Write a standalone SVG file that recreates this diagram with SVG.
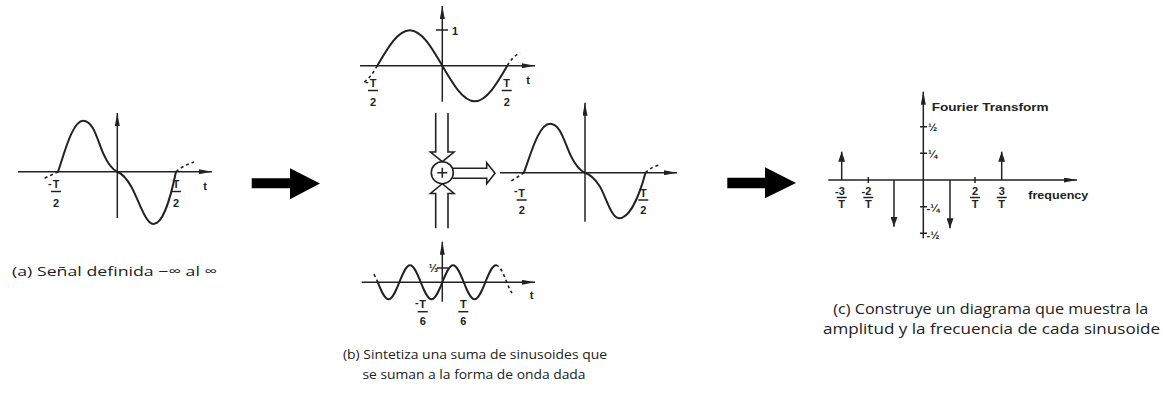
<svg xmlns="http://www.w3.org/2000/svg" width="1163" height="393" viewBox="0 0 1163 393">
<style>
.ax{stroke:#222;stroke-width:1.5;fill:none}
.cv{stroke:#222;stroke-width:2;fill:none;stroke-linejoin:round;stroke-linecap:round}
.ds{stroke:#222;stroke-width:1.6;fill:none;stroke-dasharray:3 3}
.ol{stroke:#222;stroke-width:1.6;fill:none}
.lb{font-family:"Liberation Sans",Arial,sans-serif;font-weight:bold;font-size:11px;fill:#222}
.lm{font-family:"Liberation Sans",Arial,sans-serif;font-weight:bold;font-size:11px;fill:#222;text-anchor:middle}
.cap{font-family:"Open Sans","Noto Sans",sans-serif;font-size:13.5px;fill:#222}
.capc{font-family:"Open Sans","Noto Sans",sans-serif;font-size:14.5px;fill:#222}
.big{fill:#000}
</style>
<defs>
<marker id="ah" viewBox="0 0 13 5" refX="13" refY="2.5" markerWidth="13" markerHeight="5" markerUnits="userSpaceOnUse" orient="auto"><path d="M0,0 L13,2.5 L0,5 Z" fill="#222"/></marker>
<marker id="sp" viewBox="0 0 10 7" refX="10" refY="3.5" markerWidth="10" markerHeight="7" markerUnits="userSpaceOnUse" orient="auto"><path d="M0,0 L10,3.5 L0,7 Z" fill="#222"/></marker>
</defs>

<g id="panel-a">
<line class="ax" x1="18" y1="171.7" x2="212" y2="171.7" marker-end="url(#ah)"/>
<line class="ax" x1="117.3" y1="218" x2="117.3" y2="113" marker-end="url(#ah)"/>
<path class="cv" transform="translate(117.3,171.7)" d="M-59.3,0 C-53,-18 -45,-51 -34,-51 C-24,-51 -20,-32 -14,-18 C-9,-7 -5,-2 0,0 C5,2 9,6 14,15 C20,25 28,52.3 36,52.3 C45,52.3 52,32 58.7,0"/>
<path class="ds" d="M58,171.7 Q51,175 43,179"/>
<path class="ds" d="M176,171.7 Q184,165 194,162"/>
<text class="lb" x="48" y="187" font-size="9">-</text>
<text class="lm" x="56" y="188.3">T</text>
<line class="ax" x1="51" y1="191.5" x2="61" y2="191.5" stroke-width="1.2"/>
<text class="lm" x="56" y="206.7">2</text>
<text class="lm" x="176" y="188.3">T</text>
<line class="ax" x1="171" y1="191.5" x2="181" y2="191.5" stroke-width="1.2"/>
<text class="lm" x="176" y="206.7">2</text>
<text class="lm" x="205" y="190" font-size="12">t</text>
</g>

<g id="caption-a">
<text class="cap" x="12" y="276" textLength="205" lengthAdjust="spacingAndGlyphs">(a) Señal definida −∞ al ∞</text>
</g>

<g id="arrow-1"><path class="big" d="M251.7,178.3 L290,178.3 L290,168.3 L320,183.5 L290,199.3 L290,188.3 L251.7,188.3 Z"/></g>
<g id="arrow-2"><path class="big" d="M727.3,177.7 L765,177.7 L765,167.3 L796,183 L765,198.3 L765,188.3 L727.3,188.3 Z"/></g>

<g id="panel-b-top">
<line class="ax" x1="360" y1="65.7" x2="535" y2="65.7" marker-end="url(#ah)"/>
<line class="ax" x1="442.3" y1="101.7" x2="442.3" y2="6" marker-end="url(#ah)"/>
<line class="ax" x1="436" y1="30" x2="448" y2="30"/>
<text class="lb" x="452" y="35">1</text>
<path class="cv" d="M377.3,65.7 C387.9,47.5 398,30.2 409.8,30.2 C421.6,30.2 431.7,47.5 442.3,65.7 C452.9,83.9 463,101.2 474.8,101.2 C486.6,101.2 496.7,83.9 507.3,65.7"/>
<path class="ds" d="M377.3,65.7 C373,73 369,79 363,83"/>
<path class="ds" d="M507.3,65.7 Q513,56 520,53"/>
<text class="lb" x="365" y="85" font-size="9">-</text>
<text class="lm" x="373" y="87.3">T</text>
<line class="ax" x1="368" y1="90.5" x2="378" y2="90.5" stroke-width="1.2"/>
<text class="lm" x="373" y="106">2</text>
<text class="lm" x="506.7" y="87.3">T</text>
<line class="ax" x1="501.7" y1="90.5" x2="511.7" y2="90.5" stroke-width="1.2"/>
<text class="lm" x="506.7" y="106">2</text>
<text class="lm" x="528" y="84" font-size="12">t</text>
</g>

<g id="summer">
<path class="ol" d="M435.7,113 V152 H430.5 L442.3,161.7 L454,152 H448 V113"/>
<path class="ol" d="M435.7,228.3 V193.5 H430.5 L442.3,183.7 L454,193.5 H448 V228.3"/>
<circle class="ol" cx="442.3" cy="172.7" r="11"/>
<path class="ol" d="M437.3,172.7 H447.3 M442.3,167.7 V177.7"/>
<path class="ol" d="M452.5,168.3 H486.7 V162.8 L495,173.3 L486.7,183.8 V178.3 H452.5"/>
</g>

<g id="panel-b-sum">
<line class="ax" x1="500" y1="172.7" x2="677" y2="172.7" marker-end="url(#ah)"/>
<line class="ax" x1="585" y1="221.7" x2="585" y2="102.7" marker-end="url(#ah)"/>
<path class="cv" d="M523.9,172.7 C530.4,155.4 538.65,123.7 550,123.7 C560.3,123.7 564.4,142 570.6,155.4 C575.7,166 579.85,170.8 585,172.7 C590.15,174.4 594.3,177.9 599.4,185.75 C605,194 611,218.2 619,218.2 C628.5,218.2 638,200.5 645.5,172.7"/>
<path class="ds" d="M523.9,172.7 Q518,177 511,181"/>
<path class="ds" d="M645.5,172.7 Q651,167 659,165"/>
<text class="lb" x="514" y="194" font-size="9">-</text>
<text class="lm" x="521.7" y="196.5">T</text>
<line class="ax" x1="516.7" y1="200" x2="526.7" y2="200" stroke-width="1.2"/>
<text class="lm" x="521.7" y="213.5">2</text>
<text class="lm" x="643.3" y="196.5">T</text>
<line class="ax" x1="638.3" y1="200" x2="648.3" y2="200" stroke-width="1.2"/>
<text class="lm" x="643.3" y="213.5">2</text>
</g>

<g id="panel-b-bottom">
<line class="ax" x1="361.7" y1="282.3" x2="535" y2="282.3" marker-end="url(#ah)"/>
<line class="ax" x1="442.3" y1="301.7" x2="442.3" y2="241.7" marker-end="url(#ah)"/>
<line class="ax" x1="437" y1="268" x2="448" y2="268"/>
<text class="lb" x="438" y="272" text-anchor="end" font-size="10">⅓</text>
<path class="cv" d="M377.8,282.3 C381.3,291 384.66,299.3 388.55,299.3 C392.44,299.3 395.8,291.01 399.3,282.3 C402.8,273.59 406.16,265.3 410.05,265.3 C413.94,265.3 417.3,273.59 420.8,282.3 C424.3,291.01 427.66,299.3 431.55,299.3 C435.44,299.3 438.8,291.01 442.3,282.3 C445.8,273.59 449.16,265.3 453.05,265.3 C456.94,265.3 460.3,273.59 463.8,282.3 C467.3,291.01 470.66,299.3 474.55,299.3 C478.44,299.3 481.8,291.01 485.3,282.3 C488.8,273.59 492.16,265.3 496.05,265.3"/>
<path class="ds" d="M377.8,282.3 C376.5,279 375,275.5 372.5,272.5"/>
<path class="ds" d="M496.05,265.3 C499.94,265.3 503.3,273.59 506.8,282.3 C508.5,286.5 510,290 512,293"/>
<text class="lb" x="415" y="306" font-size="9">-</text>
<text class="lm" x="422.7" y="308.3">T</text>
<line class="ax" x1="417.7" y1="311.7" x2="427.7" y2="311.7" stroke-width="1.2"/>
<text class="lm" x="422.7" y="325">6</text>
<text class="lm" x="463.3" y="308.3">T</text>
<line class="ax" x1="458.3" y1="311.7" x2="468.3" y2="311.7" stroke-width="1.2"/>
<text class="lm" x="463.3" y="325">6</text>
<text class="lm" x="531.7" y="299" font-size="12">t</text>
</g>

<g id="caption-b">
<text class="cap" x="475" y="358.5" text-anchor="middle" textLength="264" lengthAdjust="spacingAndGlyphs">(b) Sintetiza una suma de sinusoides que</text>
<text class="cap" x="474" y="378.5" text-anchor="middle" textLength="223" lengthAdjust="spacingAndGlyphs">se suman a la forma de onda dada</text>
</g>

<g id="panel-c">
<line class="ax" x1="828.3" y1="180" x2="1077" y2="180" marker-end="url(#ah)"/>
<line class="ax" x1="923.3" y1="238.3" x2="923.3" y2="91.7" marker-end="url(#ah)"/>
<text class="lb" x="931.7" y="111" textLength="117" lengthAdjust="spacingAndGlyphs">Fourier Transform</text>
<path class="ax" d="M920,126.7 H927 M920,153.3 H927 M920,206.7 H927 M920,233.3 H927 M868.3,177 V183 M975,177 V183"/>
<text class="lb" x="928" y="131" font-size="10">½</text>
<text class="lb" x="928" y="158" font-size="10">¼</text>
<text class="lb" x="926.5" y="212" font-size="10">-¼</text>
<text class="lb" x="926.5" y="238.5" font-size="10">-½</text>
<line class="ax" x1="841.7" y1="180" x2="841.7" y2="151.7" marker-end="url(#sp)"/>
<line class="ax" x1="1001.7" y1="180" x2="1001.7" y2="151.7" marker-end="url(#sp)"/>
<line class="ax" x1="894" y1="180" x2="894" y2="226.7" marker-end="url(#sp)"/>
<line class="ax" x1="950" y1="180" x2="950" y2="228.3" marker-end="url(#sp)"/>
<text class="lm" x="840" y="195">-3</text>
<line class="ax" x1="836.7" y1="197.5" x2="846.7" y2="197.5" stroke-width="1.2"/>
<text class="lm" x="841.7" y="208">T</text>
<text class="lm" x="866.5" y="195">-2</text>
<line class="ax" x1="863.3" y1="197.5" x2="873.3" y2="197.5" stroke-width="1.2"/>
<text class="lm" x="868.3" y="208">T</text>
<text class="lm" x="975" y="195">2</text>
<line class="ax" x1="970" y1="197.5" x2="980" y2="197.5" stroke-width="1.2"/>
<text class="lm" x="975" y="208">T</text>
<text class="lm" x="1001.7" y="195">3</text>
<line class="ax" x1="996.7" y1="197.5" x2="1006.7" y2="197.5" stroke-width="1.2"/>
<text class="lm" x="1001.7" y="208">T</text>
<text class="lb" x="1028.3" y="199" textLength="60" lengthAdjust="spacingAndGlyphs">frequency</text>
</g>

<g id="caption-c">
<text class="capc" x="990.8" y="314" text-anchor="middle" textLength="315" lengthAdjust="spacingAndGlyphs">(c) Construye un diagrama que muestra la</text>
<text class="capc" x="991.5" y="333.5" text-anchor="middle" textLength="337" lengthAdjust="spacingAndGlyphs">amplitud y la frecuencia de cada sinusoide</text>
</g>
</svg>
